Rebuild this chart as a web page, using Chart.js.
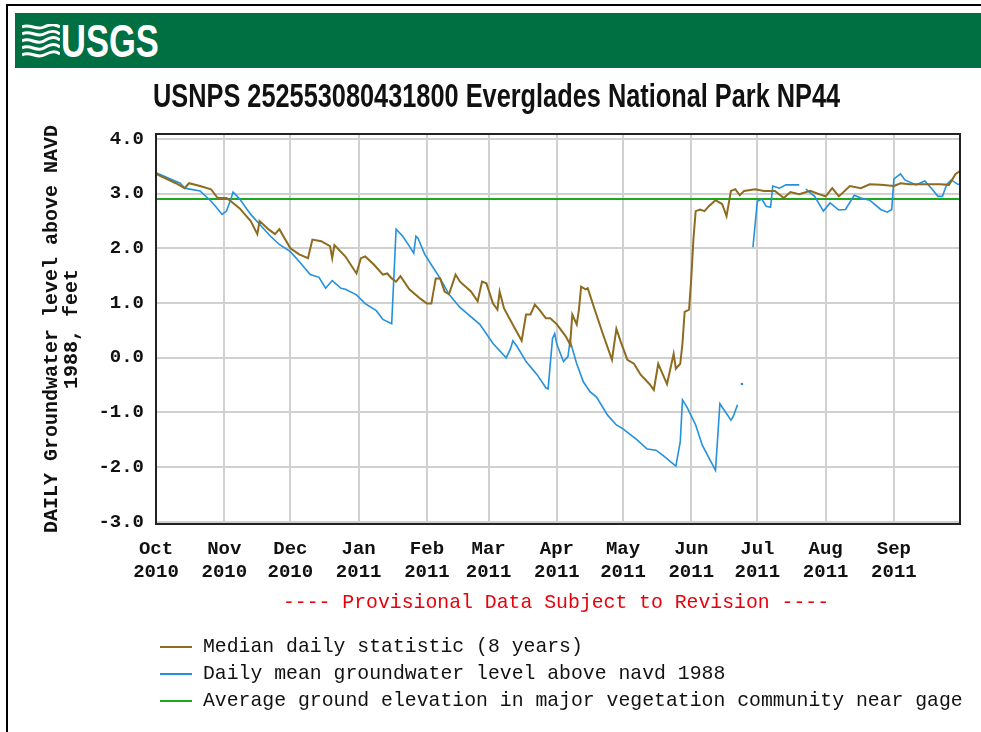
<!DOCTYPE html>
<html>
<head>
<meta charset="utf-8">
<script src="https://cdn.jsdelivr.net/npm/chart.js@4.4.1/dist/chart.umd.min.js"></script>
<style>
  body { margin: 0; background: #fff; }
  #page { position: relative; width: 981px; height: 732px; overflow: hidden; background: #fff; }
  #frame { position: absolute; left: 6px; top: 4px; width: 1000px; height: 800px;
           border-left: 2px solid #000; border-top: 2px solid #000; }
  #banner { position: absolute; left: 15px; top: 13px; width: 966px; height: 55px; background: #006f41; }
  #wave { position: absolute; left: 22px; top: 24px; }
  #usgs { position: absolute; left: 61px; top: 18px; font: bold 46px/46px "Liberation Sans", Arial, sans-serif;
          color: #fff; transform: scaleX(0.75); transform-origin: left top; white-space: nowrap; }
  #title { position: absolute; left: 153px; top: 79px; font: bold 33px/33px "Liberation Sans", Arial, sans-serif;
           color: #111; transform-origin: left top; white-space: nowrap; }
  #chart { position: absolute; left: 0; top: 0; }
  #note { position: absolute; left: 283px; top: 591px;
          font: 19.8px/24px "Liberation Mono", monospace; color: #e8000b; white-space: pre; }
  .leg { position: absolute; left: 160px; height: 24px; font: 19.8px/24px "Liberation Mono", monospace;
         color: #111; white-space: pre; }
  .leg i { position: absolute; left: 0; top: 11px; width: 32px; height: 2px; }
  .leg span { position: absolute; left: 43px; top: 0; }
</style>
</head>
<body>
<div id="page">
  <canvas id="chart" width="981" height="732"></canvas>
  <div id="frame"></div>
  <div id="banner"></div>
  <svg id="wave" width="38" height="34" viewBox="0 0 38 34">
    <g fill="none" stroke="#fff" stroke-width="3">
      <path d="M0 3 C8 -1 14 7 22 3 S34 1 38 3"/>
      <path d="M0 10 C8 5 14 14 22 10 S34 7 38 10"/>
      <path d="M0 17 C8 12 14 22 22 17 S34 13 38 16"/>
      <path d="M0 24 C8 19 14 29 22 24 S34 20 38 23"/>
      <path d="M0 31 C8 26 14 35 22 31 S34 27 38 30"/>
    </g>
  </svg>
  <div id="usgs">USGS</div>
  <div id="title">USNPS 252553080431800 Everglades National Park NP44</div>
  <div id="note">---- Provisional Data Subject to Revision ----</div>
  <div id="legend"></div>
</div>
<script>
// day 0 = 1 Oct 2010
const monthDays = [0, 31, 61, 92, 123, 151, 182, 212, 243, 273, 304, 335];
const monthLabels = [['Oct', '2010'], ['Nov', '2010'], ['Dec', '2010'], ['Jan', '2011'], ['Feb', '2011'], ['Mar', '2011'],
                     ['Apr', '2011'], ['May', '2011'], ['Jun', '2011'], ['Jul', '2011'], ['Aug', '2011'], ['Sep', '2011']];
const yTicks = [-3, -2, -1, 0, 1, 2, 3, 4];

const medianDays = [0, 9, 13, 15, 20, 25, 28, 32, 34, 38, 43, 46, 47, 51, 54, 56, 61, 65, 69, 71, 75, 79, 80, 81, 86, 91, 93, 95, 99,
  103, 105, 107, 109, 111, 115, 120, 123, 125, 127, 129, 131, 133, 136, 138, 143, 146, 148, 150, 153, 155, 156, 158, 163, 166,
  168, 170, 172, 174, 177, 179, 182, 186, 188, 189, 191, 192, 193, 195, 196, 199, 203, 207, 209, 211, 214, 217, 220, 224, 226,
  228, 231, 232, 235, 236, 238, 239, 240, 242, 243, 244, 245, 247, 249, 251, 254, 257, 259, 261, 263, 265, 267, 272, 276, 281,
  285, 288, 292, 297, 301, 304, 307, 310, 315, 320, 324, 329, 335, 338, 342, 347, 351, 356, 360, 363, 365];
const medianLevels = [3.36, 3.19, 3.10, 3.19, 3.14, 3.08, 2.92, 2.92, 2.86, 2.73, 2.50, 2.26, 2.50, 2.35, 2.26, 2.35, 2.00, 1.89,
  1.82, 2.16, 2.13, 2.04, 1.82, 2.06, 1.85, 1.54, 1.82, 1.85, 1.70, 1.52, 1.54, 1.45, 1.39, 1.49, 1.25, 1.08, 0.99, 0.99, 1.45,
  1.45, 1.21, 1.16, 1.52, 1.39, 1.21, 1.03, 1.39, 1.36, 0.99, 0.88, 1.21, 0.90, 0.53, 0.31, 0.79, 0.79, 0.97, 0.88, 0.72, 0.72,
  0.61, 0.39, 0.24, 0.79, 0.61, 0.88, 1.30, 1.25, 1.27, 0.90, 0.42, -0.04, 0.53, 0.29, -0.04, -0.11, -0.31, -0.48, -0.59, -0.11,
  -0.39, -0.48, 0.07, -0.20, -0.11, 0.26, 0.84, 0.88, 1.45, 2.18, 2.68, 2.71, 2.68, 2.77, 2.88, 2.81, 2.59, 3.05, 3.08, 2.97,
  3.05, 3.08, 3.05, 3.05, 2.92, 3.03, 2.99, 3.05, 2.99, 2.95, 3.10, 2.95, 3.14, 3.10, 3.17, 3.16, 3.14, 3.19, 3.17, 3.17, 3.17,
  3.17, 3.16, 3.36, 3.41];

const meanDays = [0, 11, 13, 20, 25, 27, 30, 32, 34, 35, 38, 43, 47, 52, 56, 61, 65, 70, 74, 77, 80, 84, 86, 91, 95, 100, 103, 107,
  109, 112, 115, 117, 118, 119, 122, 125, 129, 133, 138, 147, 153, 159, 161, 162, 164, 168, 173, 177, 178, 180, 181, 182, 185,
  187, 188, 189, 191, 194, 197, 200, 205, 209, 212, 218, 223, 227, 230, 236, 238, 239, 241, 245, 248, 254, 255, 256, 257, 261,
  262, 264, 265, 266, 267, 271, 273, 275, 277, 279, 280, 283, 286, 292, 293, 295, 299, 303, 306, 310, 313, 317, 320, 324, 329,
  332, 334, 335, 338, 340, 345, 349, 352, 355, 357, 359, 361, 364, 365];
const meanLevels = [3.38, 3.19, 3.10, 3.05, 2.86, 2.77, 2.62, 2.68, 2.90, 3.03, 2.90, 2.62, 2.44, 2.22, 2.07, 1.94, 1.76, 1.52, 1.47,
  1.27, 1.41, 1.27, 1.25, 1.15, 0.99, 0.86, 0.70, 0.62, 2.35, 2.22, 2.04, 1.91, 2.22, 2.18, 1.89, 1.70, 1.45, 1.16, 0.92, 0.61,
  0.26, 0.00, 0.17, 0.31, 0.20, -0.07, -0.31, -0.55, -0.57, 0.35, 0.44, 0.24, -0.07, 0.02, 0.31, 0.17, -0.11, -0.44, -0.62, -0.72,
  -1.05, -1.23, -1.30, -1.49, -1.67, -1.69, -1.78, -1.98, -1.54, -0.77, -0.90, -1.23, -1.60, -2.06, -1.45, -0.84, -0.90, -1.14,
  -1.08, -0.86, null, -0.48, null, 2.02, 2.86, 2.90, 2.77, 2.75, 3.14, 3.10, 3.16, 3.16, null, 3.08, 2.95, 2.68, 2.83, 2.70, 2.71,
  2.97, 2.92, 2.88, 2.71, 2.66, 2.71, 3.27, 3.36, 3.25, 3.16, 3.23, 3.10, 2.95, 2.95, 3.17, 3.25, 3.17, 3.17];

const elevationDays = [0, 365];
const elevationLevels = [2.9, 2.9];

const seriesLabels = ['Median daily statistic (8 years)', 'Daily mean groundwater level above navd 1988',
                      'Average ground elevation in major vegetation community near gage'];
const seriesColors = ['#8d6b1f', '#2391dc', '#1fa81f'];

const pts = (xs, ys) => xs.map((x, i) => ({ x: x, y: ys[i] }));

// fit the title to its width in the reference
const t = document.getElementById('title');
t.style.transform = 'scaleX(' + (687 / t.scrollWidth) + ')';

document.getElementById('legend').innerHTML = seriesLabels.map((s, i) =>
  '<div class="leg" style="top:' + (635 + i * 27) + 'px"><i style="background:' + seriesColors[i] + '"></i><span>' + s + '</span></div>'
).join('');

const frameBox = {
  id: 'frameBox',
  afterDatasetsDraw(chart) {
    const a = chart.chartArea, c = chart.ctx;
    c.save();
    c.strokeStyle = '#222';
    c.lineWidth = 2;
    c.strokeRect(a.left, a.top, a.right - a.left, a.bottom - a.top);
    c.restore();
  }
};

const tickFont = { family: '"Liberation Mono", monospace', size: 19, weight: 'bold', lineHeight: 1.2 };

new Chart(document.getElementById('chart'), {
  type: 'line',
  data: {
    datasets: [
      { label: seriesLabels[0], data: pts(medianDays, medianLevels), borderColor: seriesColors[0], borderWidth: 2,
        pointRadius: 0 },
      { label: seriesLabels[1], data: pts(meanDays, meanLevels), borderColor: seriesColors[1], borderWidth: 1.6,
        pointBackgroundColor: seriesColors[1], pointBorderWidth: 0,
        pointRadius: ctx => {
          const d = ctx.dataset.data, i = ctx.dataIndex;
          const lone = d[i].y !== null && (!d[i - 1] || d[i - 1].y === null) && (!d[i + 1] || d[i + 1].y === null);
          return lone ? 1.3 : 0;
        } },
      { label: seriesLabels[2], data: pts(elevationDays, elevationLevels), borderColor: seriesColors[2], borderWidth: 2,
        pointRadius: 0 }
    ]
  },
  options: {
    responsive: false,
    animation: false,
    spanGaps: false,
    layout: { padding: { left: 0, top: 134, right: 21, bottom: 148 } },
    plugins: { legend: { display: false }, tooltip: { enabled: false } },
    scales: {
      x: {
        type: 'linear', min: 0, max: 365,
        afterBuildTicks: s => { s.ticks = monthDays.map(v => ({ value: v })); },
        afterFit: s => { s.height = 60; },
        grid: { color: '#d0d0d0', lineWidth: 2, drawTicks: false },
        border: { display: false },
        ticks: { color: '#111', font: tickFont, padding: 14, maxRotation: 0, autoSkip: false,
                 callback: (v, i) => monthLabels[i] }
      },
      y: {
        min: -3.04, max: 4.09,
        afterBuildTicks: s => { s.ticks = yTicks.map(v => ({ value: v })); },
        afterFit: s => { s.width = 156; },
        grid: { color: '#d0d0d0', lineWidth: 2, drawTicks: false },
        border: { display: false },
        ticks: { color: '#111', font: tickFont, padding: 12, callback: v => v.toFixed(1) },
        title: { display: true, text: ['DAILY Groundwater level above NAVD', '1988, feet'], color: '#111',
                 font: { family: '"Liberation Mono", monospace', size: 20, weight: 'bold', lineHeight: 1.0 },
                 padding: { top: 42, bottom: 0 } }
      }
    }
  },
  plugins: [frameBox]
});
</script>
</body>
</html>
